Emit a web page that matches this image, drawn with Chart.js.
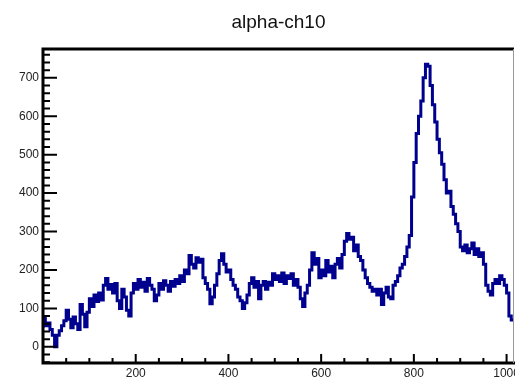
<!DOCTYPE html>
<html>
<head>
<meta charset="utf-8">
<script src="https://cdn.jsdelivr.net/npm/chart.js@4/dist/chart.umd.min.js"></script>
<style>
  body { margin: 0; overflow: hidden; background: #fff; }
  canvas { display: block; }
</style>
</head>
<body>
<canvas id="histo" width="545" height="378"></canvas>
<script>
let title = 'alpha-ch10';
let binWidth = 5;
// counts per 5-channel bin (x = 0, 5, 10 ...)
let counts = [
  50, 78, 55, 62, 45, 30, 0, 30, 42, 55,
  68, 95, 72, 50, 78, 60, 45, 110, 85, 52,
  90, 125, 105, 135, 118, 140, 122, 160, 178, 150,
  162, 140, 165, 120, 100, 150, 130, 95, 80, 140,
  165, 150, 175, 155, 168, 145, 178, 160, 150, 120,
  135, 165, 150, 172, 160, 145, 170, 158, 175, 165,
  185, 170, 200, 190, 238, 215, 205, 232, 220, 228,
  180, 165, 150, 112, 130, 160, 190, 225, 242, 215,
  195, 200, 175, 160, 150, 130, 120, 100, 115, 135,
  165, 180, 155, 170, 125, 160, 170, 150, 168, 160,
  190, 175, 185, 170, 192, 165, 185, 178, 190, 160,
  175, 155, 125, 105, 140, 160, 200, 245, 215, 230,
  180, 200, 185, 225, 195, 210, 180, 215, 230, 205,
  240, 275, 295, 280, 285, 250, 265, 235, 225, 200,
  180, 165, 155, 145, 150, 135, 150, 110, 140, 155,
  130, 125, 160, 170, 185, 205, 215, 235, 260, 290,
  390, 480, 555, 600, 640, 700, 735, 730, 680, 630,
  585, 540, 505, 475, 435, 400, 405, 365, 345, 320,
  300, 260, 250, 265, 245, 255, 270, 240, 255, 235,
  245, 215, 160, 145, 135, 165, 175, 165, 185, 175,
  160, 140, 80, 70
];
let xTicks = [200, 400, 600, 800, 1000];
let yTicks = [0, 100, 200, 300, 400, 500, 600, 700];

let points = counts.map((c, i) => ({x: i * binWidth, y: c}));
points.push({x: counts.length * binWidth, y: counts[counts.length - 1]});

// ROOT style frame: thick axes, ticks pointing inward, title over the frame
let rootFrame = {
  id: 'rootFrame',
  afterDatasetsDraw(chart) {
    let ctx = chart.ctx;
    let a = chart.chartArea;
    let x = chart.scales.x, y = chart.scales.y;
    ctx.save();
    ctx.strokeStyle = '#000';
    ctx.lineWidth = 2;
    ctx.beginPath();
    for (let v = -40; v <= 760; v += 20) {
      let py = y.getPixelForValue(v);
      let len = v % 100 === 0 ? 14 : 7;
      ctx.moveTo(a.left, py);
      ctx.lineTo(a.left + len, py);
    }
    for (let v = 50; v <= 1000; v += 50) {
      let px = x.getPixelForValue(v);
      let len = v % 200 === 0 ? 9 : 5;
      ctx.moveTo(px, a.bottom);
      ctx.lineTo(px, a.bottom - len);
    }
    ctx.stroke();

    ctx.lineWidth = 3;
    ctx.beginPath();
    ctx.moveTo(a.right, a.top);
    ctx.lineTo(a.left, a.top);
    ctx.lineTo(a.left, a.bottom);
    ctx.lineTo(a.right + 2, a.bottom);
    ctx.stroke();
    ctx.strokeStyle = '#999';
    ctx.lineWidth = 1;
    ctx.beginPath();
    ctx.moveTo(a.right - 0.5, a.top);
    ctx.lineTo(a.right - 0.5, a.bottom);
    ctx.stroke();

    ctx.fillStyle = '#111';
    ctx.font = '19px "Liberation Sans", Arial, sans-serif';
    ctx.textAlign = 'center';
    ctx.textBaseline = 'alphabetic';
    ctx.fillText(title, (a.left + a.right) / 2, 27.5);
    ctx.restore();
  }
};

let histo = new Chart(document.getElementById('histo'), {
  type: 'line',
  data: {
    datasets: [{
      label: title,
      data: points,
      stepped: 'after',
      borderColor: '#00008f',
      borderWidth: 3,
      pointRadius: 0,
      fill: false
    }]
  },
  options: {
    responsive: false,
    animation: false,
    devicePixelRatio: 1,
    layout: { padding: { top: 49, right: 31, left: 0, bottom: 0 } },
    plugins: { legend: { display: false }, tooltip: { enabled: false }, title: { display: false } },
    scales: {
      x: {
        type: 'linear',
        min: 0,
        max: 1016,
        grid: { display: false, drawTicks: false },
        border: { display: false },
        afterBuildTicks: s => { s.ticks = xTicks.map(v => ({value: v})); },
        afterFit: s => { s.height = 15; },
        ticks: {
          padding: 3,
          color: '#222',
          font: { family: '"Liberation Sans", Arial, sans-serif', size: 12 },
          maxRotation: 0,
          callback: v => String(v)
        }
      },
      y: {
        min: -42,
        max: 775,
        grid: { display: false, drawTicks: false },
        border: { display: false },
        afterBuildTicks: s => { s.ticks = yTicks.map(v => ({value: v})); },
        afterFit: s => { s.width = 43; },
        ticks: {
          padding: 4,
          color: '#222',
          font: { family: '"Liberation Sans", Arial, sans-serif', size: 12 },
          callback: v => String(v)
        }
      }
    }
  },
  plugins: [rootFrame]
});
</script>
</body>
</html>
